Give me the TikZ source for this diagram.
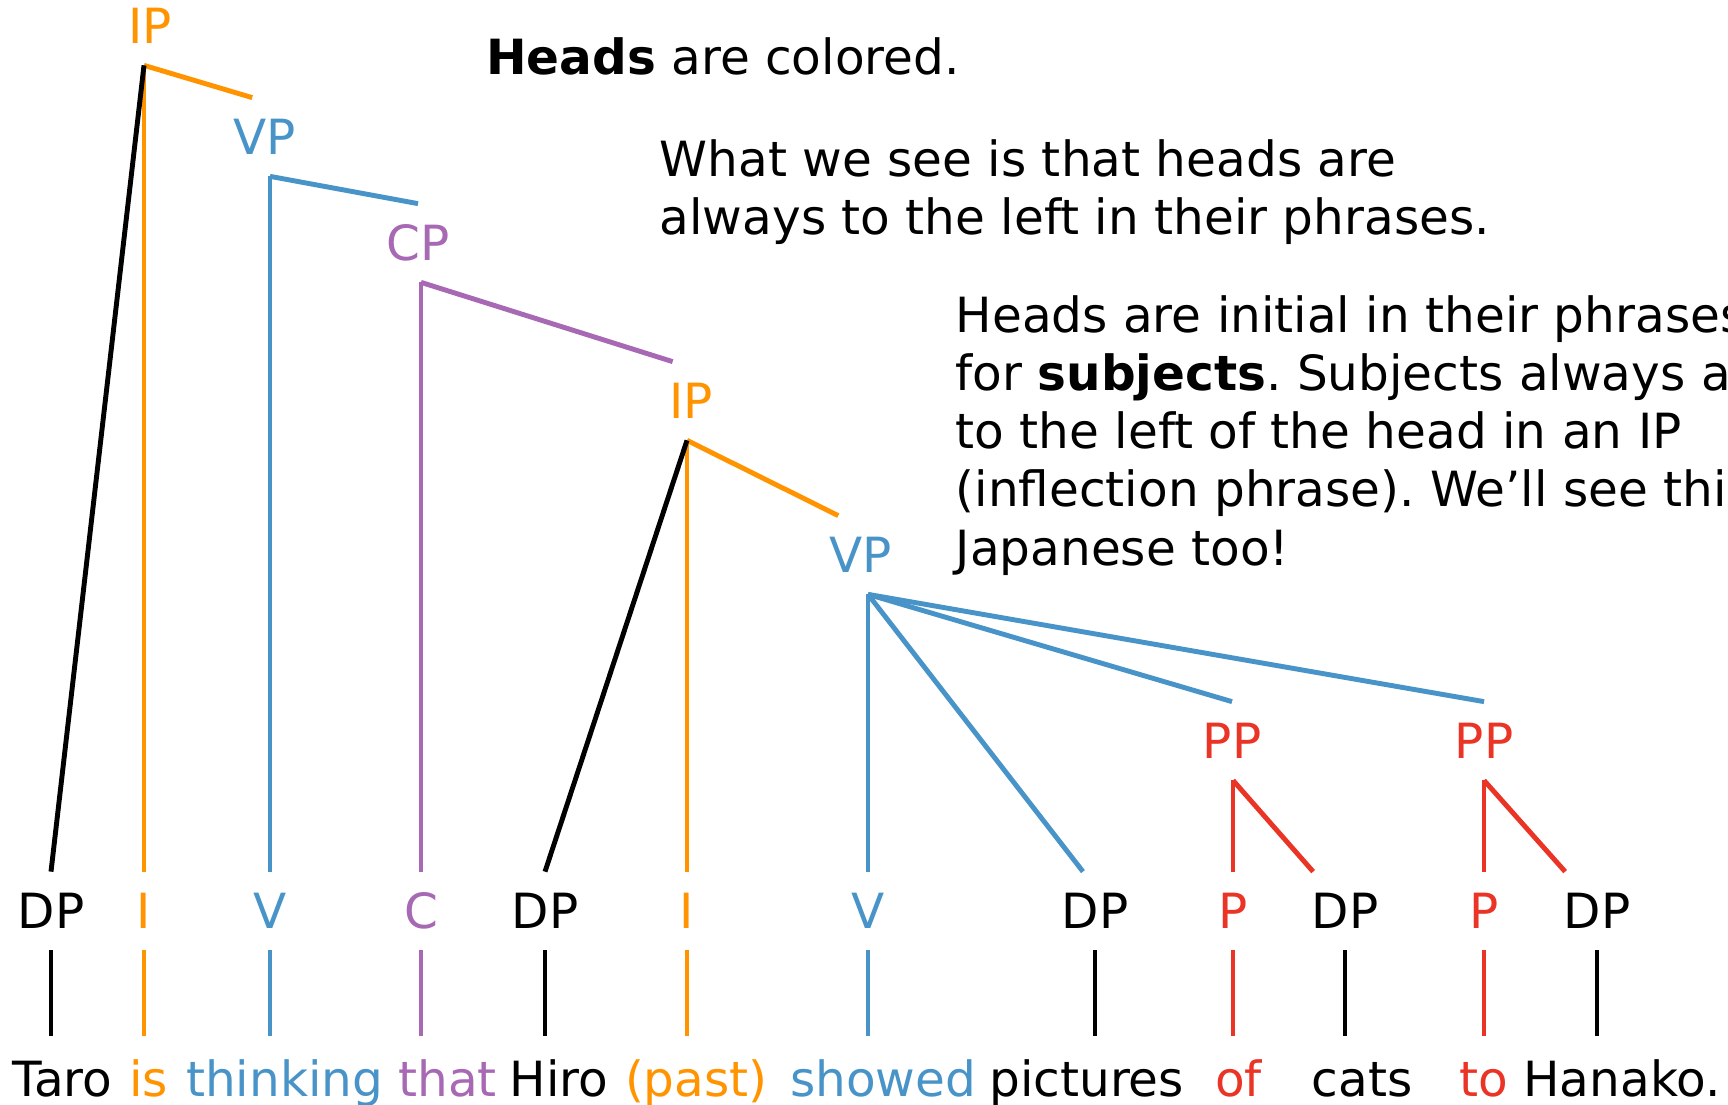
\documentclass[tikz,border=0pt]{standalone}
\usepackage{fontspec}
\setmainfont{DejaVu Sans}
\frenchspacing

\definecolor{headorange}{RGB}{255,148,0}
\definecolor{headblue}{RGB}{72,148,200}
\definecolor{headpurple}{RGB}{167,104,180}
\definecolor{headred}{RGB}{234,52,38}

\tikzset{
  cat/.style={inner xsep=3pt, inner ysep=6pt, text height=10pt, text depth=0pt},
  word/.style={anchor=base west, inner xsep=0pt, inner ysep=7pt, text height=10pt, text depth=3pt},
  branch/.style={line width=1.4pt},
  % base of a multi-line note is its last line
  note/.style={anchor=base west, inner sep=0pt, align=left},
}

\begin{document}
\begin{tikzpicture}[x=0.1mm, y=-0.1mm, font=\fontsize{13.8pt}{16.55pt}\selectfont]

        \useasboundingbox (0,0) rectangle (1728,1105);
        \clip (0,0) rectangle (1728,1105);

        % phrases
        \node[cat, headorange] (IP1) at (150,26)   {IP};
        \node[cat, headblue]   (VP1) at (265,137)  {VP};
        \node[cat, headpurple] (CP)  at (418,243)  {CP};
        \node[cat, headorange] (IP2) at (691,401)  {IP};
        \node[cat, headblue]   (VP2) at (861,555)  {VP};
        \node[cat, headred]    (PP1) at (1232,741) {PP};
        \node[cat, headred]    (PP2) at (1484,741) {PP};

        % categories over the words
        \node[cat]             (DP1) at (51,911)   {DP};
        \node[cat, headorange] (I1)  at (144,911)  {I};
        \node[cat, headblue]   (V1)  at (270,911)  {V};
        \node[cat, headpurple] (C1)  at (421,911)  {C};
        \node[cat]             (DP2) at (545,911)  {DP};
        \node[cat, headorange] (I2)  at (687,911)  {I};
        \node[cat, headblue]   (V2)  at (868,911)  {V};
        \node[cat]             (DP3) at (1095,911) {DP};
        \node[cat, headred]    (P1)  at (1233,911) {P};
        \node[cat]             (DP4) at (1345,911) {DP};
        \node[cat, headred]    (P2)  at (1484,911) {P};
        \node[cat]             (DP5) at (1597,911) {DP};

        % the sentence
        \node[word]             (w1)  at (11.7,1096.7)   {Taro};
        \node[word, headorange] (w2)  at (128.4,1096.7)  {is};
        \node[word, headblue]   (w3)  at (185.4,1096.7)  {thinking};
        \node[word, headpurple] (w4)  at (397.7,1096.7)  {that};
        \node[word]             (w5)  at (509.2,1096.7)  {Hiro};
        \node[word, headorange] (w6)  at (624.3,1096.7)  {(past)};
        \node[word, headblue]   (w7)  at (789.4,1096.7)  {showed};
        \node[word]             (w8)  at (988.6,1096.7)  {pictures};
        \node[word, headred]    (w9)  at (1214.3,1096.7) {of};
        \node[word]             (w10) at (1310.9,1096.7) {cats};
        \node[word, headred]    (w11) at (1458.7,1096.7) {to};
        \node[word]             (w12) at (1522.7,1096.7) {Hanako.};

        % notes
        \node[note] (colored) at (485.5,75) {\textbf{Heads} are colored.};
        \node[note] (left) at (659,235) {What we see is that heads are\\always to the left in their phrases.};
        \node[note] (subj) at (955,565) {Heads are initial in their phrases\\for \textbf{subjects}. Subjects always a\\to the left of the head in an IP\\(inflection phrase). We’ll see this\\Japanese too!};

        % main IP
        \draw[branch, headorange] (IP1.south -| I1.north) -- (I1.north);
        \draw[branch, headorange] (IP1.south -| I1.north) -- (VP1.108);
        \draw[branch]             (IP1.south -| I1.north) -- (DP1.north);

        \draw[branch, headblue]   (VP1.south -| V1.north) -- (V1.north);
        \draw[branch, headblue]   (VP1.south -| V1.north) -- (CP.north);

        \draw[branch, headpurple] (CP.south -| C1.north) -- (C1.north);
        \draw[branch, headpurple] (CP.south -| C1.north) -- (IP2.115);

        % embedded IP
        \draw[branch, headorange] (IP2.south -| I2.north) -- (I2.north);
        \draw[branch, headorange] (IP2.south -| I2.north) -- (VP2.120);
        \draw[branch]             (IP2.south -| I2.north) -- (DP2.north);

        \draw[branch, headblue]   (VP2.south -| V2.north) -- (V2.north);
        \draw[branch, headblue]   (VP2.south -| V2.north) -- (DP3.107);
        \draw[branch, headblue]   (VP2.south -| V2.north) -- (PP1.north);
        \draw[branch, headblue]   (VP2.south -| V2.north) -- (PP2.north);

        \draw[branch, headred]    (PP1.south -| P1.north) -- (P1.north);
        \draw[branch, headred]    (PP1.south -| P1.north) -- (DP4.129);
        \draw[branch, headred]    (PP2.south -| P2.north) -- (P2.north);
        \draw[branch, headred]    (PP2.south -| P2.north) -- (DP5.129);

        % categories down to the words
        \draw[branch]             (DP1.south) -- (DP1.south |- w1.north);
        \draw[branch, headorange] (I1.south)  -- (I1.south |- w2.north);
        \draw[branch, headblue]   (V1.south)  -- (V1.south |- w3.north);
        \draw[branch, headpurple] (C1.south)  -- (C1.south |- w4.north);
        \draw[branch]             (DP2.south) -- (DP2.south |- w5.north);
        \draw[branch, headorange] (I2.south)  -- (I2.south |- w6.north);
        \draw[branch, headblue]   (V2.south)  -- (V2.south |- w7.north);
        \draw[branch]             (DP3.south) -- (DP3.south |- w8.north);
        \draw[branch, headred]    (P1.south)  -- (P1.south |- w9.north);
        \draw[branch]             (DP4.south) -- (DP4.south |- w10.north);
        \draw[branch, headred]    (P2.south)  -- (P2.south |- w11.north);
        \draw[branch]             (DP5.south) -- (DP5.south |- w12.north);

\end{tikzpicture}
\end{document}
